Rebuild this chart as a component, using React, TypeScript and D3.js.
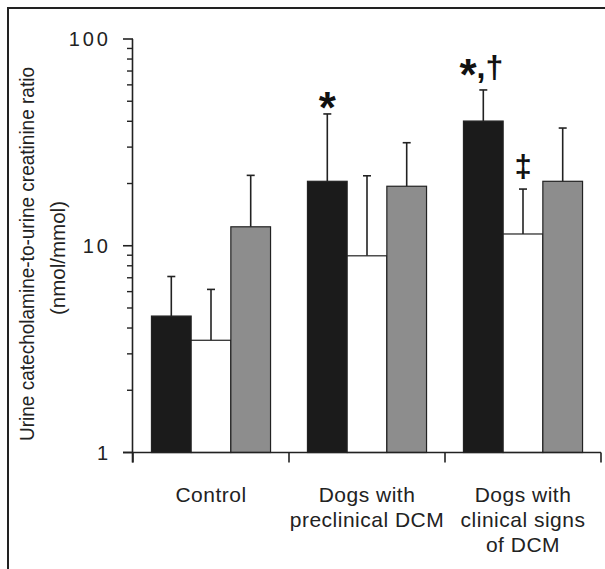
import React from "react";
import * as d3 from "d3";

const categories = ["Control", "Dogs with preclinical DCM", "Dogs with clinical signs of DCM"];
const categoryLines = [["Control"], ["Dogs with", "preclinical DCM"], ["Dogs with", "clinical signs", "of DCM"]];
const seriesNames = ["black", "white", "gray"];
const blackMeans = [4.57, 20.5, 40.1];
const blackUpper = [7.1, 43.4, 56.7];
const whiteMeans = [3.49, 8.94, 11.4];
const whiteUpper = [6.15, 21.8, 18.8];
const grayMeans = [12.35, 19.4, 20.5];
const grayUpper = [21.9, 31.5, 37.1];
const blackMarks = ["", "*", "*,†"];
const whiteMarks = ["", "", "‡"];
const grayMarks = ["", "", ""];
const majorTicks = [1, 10, 100];
const majorTickLabels = ["1", "10", "100"];
const minorTicks = [2, 3, 4, 5, 6, 7, 8, 9, 20, 30, 40, 50, 60, 70, 80, 90];
const yTitle = ["Urine catecholamine-to-urine creatinine ratio", "(nmol/mmol)"];

const FONT = "'Liberation Sans', Arial, Helvetica, sans-serif";
const INK = "#222";

export default function App() {
  const W = 605, H = 569;
  const x0 = 133, x1 = 601, yTop = 39, yBot = 452.5;

  const y = d3.scaleLog().domain([1, 100]).range([yBot, yTop]);
  const xCat = d3.scaleBand<string>().domain(categories).range([x0, x1]).paddingInner(0).paddingOuter(0);
  const xSub = d3.scaleBand<string>().domain(seriesNames).range([0, xCat.bandwidth()]).paddingInner(0).paddingOuter(0.465);

  const series = [
    { name: "black", means: blackMeans, upper: blackUpper, marks: blackMarks, fill: "#1b1b1b" },
    { name: "white", means: whiteMeans, upper: whiteUpper, marks: whiteMarks, fill: "#ffffff" },
    { name: "gray", means: grayMeans, upper: grayUpper, marks: grayMarks, fill: "#8d8d8d" },
  ];

  const bw = xSub.bandwidth();

  return (
    <svg width={W} height={H} style={{ position: "absolute", left: 0, top: 0, background: "#fff" }} fontFamily={FONT}>
      <rect x={0} y={0} width={W} height={H} fill="#fff" />
      {/* frame */}
      <rect x={8} y={8} width={1200} height={1200} fill="none" stroke={INK} strokeWidth={2} />

      {/* bars */}
      {series.map((s) =>
        categories.map((c, i) => {
          const bx = (xCat(c) as number) + (xSub(s.name) as number);
          const top = y(s.means[i]);
          const cx = bx + bw / 2;
          const et = y(s.upper[i]);
          return (
            <g key={s.name + i}>
              <line x1={cx} x2={cx} y1={top} y2={et} stroke={INK} strokeWidth={1.6} />
              <line x1={cx - 4} x2={cx + 4} y1={et} y2={et} stroke={INK} strokeWidth={1.6} />
              <rect x={bx} y={top} width={bw} height={yBot - top} fill={s.fill} stroke={INK} strokeWidth={1.2} />
            </g>
          );
        })
      )}

      {/* annotations */}
      {series.map((s) =>
        categories.map((c, i) => {
          const m = s.marks[i];
          if (!m) return null;
          const cx = (xCat(c) as number) + (xSub(s.name) as number) + bw / 2;
          const et = y(s.upper[i]);
          if (m === "*") {
            return (
              <text key={"m" + s.name + i} x={cx} y={et + 9} textAnchor="middle" fontSize={44} fontWeight="bold" fill="#111">*</text>
            );
          }
          if (m.startsWith("*")) {
            return (
              <text key={"m" + s.name + i} x={cx - 2} y={et - 12} textAnchor="middle" fontWeight="bold" fill="#111">
                <tspan fontSize={44} dy={12}>*</tspan>
                <tspan fontSize={32} dy={-12}>{m.slice(1)}</tspan>
              </text>
            );
          }
          return (
            <text key={"m" + s.name + i} x={cx} y={et - 12} textAnchor="middle" fontSize={31} fontWeight="bold" fill="#111">{m}</text>
          );
        })
      )}

      {/* y axis */}
      <line x1={x0 - 0.5} x2={x0 - 0.5} y1={yTop} y2={yBot + 10} stroke={INK} strokeWidth={1.6} />
      {majorTicks.map((t, i) => (
        <g key={"M" + t}>
          <line x1={x0 - 10} x2={x0} y1={y(t)} y2={y(t)} stroke={INK} strokeWidth={1.6} />
          <text x={111} y={y(t)} dy="0.36em" textAnchor="end" fontSize={20} letterSpacing={3} fill={INK}>{majorTickLabels[i]}</text>
        </g>
      ))}
      {minorTicks.map((t) => (
        <line key={"m" + t} x1={x0 - 6} x2={x0} y1={y(t)} y2={y(t)} stroke={INK} strokeWidth={1.4} />
      ))}

      {/* x axis */}
      <line x1={x0 - 10} x2={x1} y1={yBot} y2={yBot} stroke={INK} strokeWidth={1.6} />
      {[...categories.map((c) => xCat(c) as number), x1].map((t, i) => (
        <line key={"xt" + i} x1={t} x2={t} y1={yBot} y2={yBot + 10} stroke={INK} strokeWidth={1.6} />
      ))}
      {categories.map((c, i) => {
        const cx = (xCat(c) as number) + xCat.bandwidth() / 2;
        return (
          <text key={"cl" + i} textAnchor="middle" fontSize={21} letterSpacing={0.5} fill={INK}>
            {categoryLines[i].map((ln, j) => (
              <tspan key={j} x={cx} y={502 + j * 25}>{ln}</tspan>
            ))}
          </text>
        );
      })}

      {/* y title */}
      <text transform="translate(34,254) rotate(-90)" textAnchor="middle" fontSize={21} textLength={374} lengthAdjust="spacingAndGlyphs" fill={INK}>{yTitle[0]}</text>
      <text transform="translate(65,258) rotate(-90)" textAnchor="middle" fontSize={21} textLength={114} lengthAdjust="spacingAndGlyphs" fill={INK}>{yTitle[1]}</text>
    </svg>
  );
}
